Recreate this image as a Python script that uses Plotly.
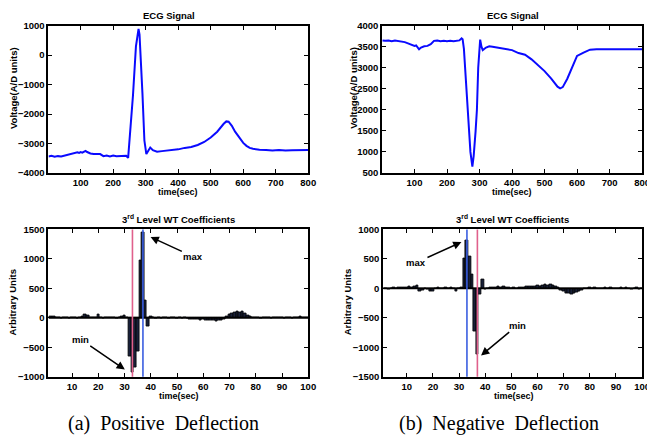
import plotly.graph_objects as go

# ---------------- data ----------------
# (a) positive deflection ECG
ecg_a_t = [1, 10, 20, 30, 40, 50, 60, 70, 80, 90, 95, 100, 105, 110, 115, 120, 130, 140, 150, 160,
           170, 180, 190, 200, 210, 220, 230, 240, 246, 252, 261, 270, 276, 278, 281, 286, 290, 296,
           302, 308, 314, 322, 335, 350, 360, 380, 400, 420, 440, 460, 480, 500, 520, 540, 548, 555,
           565, 575, 590, 600, 610, 620, 630, 640, 650, 670, 690, 710, 730, 750, 770, 790, 800]
ecg_a_v = [-3440, -3420, -3450, -3430, -3440, -3410, -3400, -3370, -3330, -3300, -3320, -3290, -3310,
           -3270, -3250, -3290, -3340, -3360, -3370, -3360, -3430, -3410, -3440, -3410, -3430, -3420,
           -3430, -3420, -3490, -2700, -1350, 300, 850, 890, 700, -300, -1300, -2900, -3360, -3250,
           -3140, -3230, -3280, -3260, -3250, -3230, -3200, -3150, -3120, -3050, -2950, -2800, -2600,
           -2330, -2250, -2260, -2400, -2600, -2850, -2980, -3080, -3150, -3180, -3200, -3210, -3220,
           -3240, -3220, -3240, -3230, -3220, -3220, -3220]

# (b) negative deflection ECG
ecg_b_t = [1, 10, 20, 30, 40, 50, 60, 70, 80, 90, 100, 105, 114, 120, 130, 140, 150, 160, 170, 180,
           190, 200, 210, 220, 230, 238, 245, 248, 252, 258, 264, 272, 278, 282, 288, 292, 296, 300,
           302, 306, 310, 320, 330, 340, 360, 380, 400, 420, 440, 460, 480, 500, 520, 540, 548, 556,
           570, 585, 600, 620, 640, 660, 680, 700, 720, 740, 760, 780, 800]
ecg_b_v = [3650, 3640, 3650, 3630, 3650, 3640, 3630, 3610, 3580, 3550, 3520, 3530, 3440, 3480, 3510,
           3520, 3560, 3640, 3650, 3630, 3640, 3630, 3640, 3630, 3640, 3650, 3700, 3680, 3450, 2700,
           1900, 1000, 650, 900, 1500, 2000, 3000, 3650, 3670, 3500, 3420, 3480, 3510, 3500, 3470,
           3440, 3420, 3350, 3310, 3200, 3060, 2920, 2750, 2550, 2510, 2540, 2740, 3000, 3280, 3360,
           3430, 3440, 3440, 3440, 3450, 3440, 3440, 3450, 3440]

# 3rd level wavelet coefficients (index 1..100)
wt_idx = list(range(1, 101))
wt_a = [10, 30, 20, 0, 10, -10, 10, 0, -10, 0, 10, -10, 0, 20, 50, 40, 0, 10, 10, 60,
        0, -10, 10, 0, 10, 0, -10, 10, 20, 40, 10, -650, -930, -850, -580, 970, 1450, 300, -150, 30,
        10, -10, 0, -10, 0, 10, -10, 0, 10, -10, 0, -10, 0, -10, -20, -30, -20, -30, -40, -30,
        -40, -50, -40, -50, -60, -50, -40, -20, 30, 60, 80, 90, 110, 90, 100, 70, 40, 20, 10, 0,
        10, -10, 0, 10, 0, -10, 10, 0, 10, 0, -10, 10, 0, -10, 0, 10, 20, 10, 0, 10]
wt_b = [0, -10, -20, 0, 10, 0, 10, 20, 10, 20, 30, 20, 30, 50, -50, -40, -10, -20, -60, -50,
        0, 10, 0, -10, 10, 0, 10, 0, -60, 0, 10, 510, 810, 550, 230, -740, -1120, -100, 150, -20,
        0, 10, 10, 20, 30, 20, 30, 20, 10, 0, 10, 0, 20, 10, 20, 30, 40, 30, 40, 50,
        40, 50, 60, 50, 60, 50, 40, 20, -30, -60, -80, -90, -110, -80, -70, -60, -30, -10, 0, 10,
        0, 10, 0, -10, 0, 10, 0, 10, 0, -10, 0, 10, 0, 10, 0, -20, 0, 10, -20, 0]

max_idx_a, min_idx_a = 37, 33
max_idx_b, min_idx_b = 33, 37

tick_ecg_t = [100, 200, 300, 400, 500, 600, 700, 800]
tick_ecg_a = [-4000, -3000, -2000, -1000, 0, 1000]
tick_ecg_b = [500, 1000, 1500, 2000, 2500, 3000, 3500, 4000]
tick_wt_t = [10, 20, 30, 40, 50, 60, 70, 80, 90, 100]
tick_wt_a = [-1000, -500, 0, 500, 1000, 1500]
tick_wt_b = [-1500, -1000, -500, 0, 500, 1000]

# ---------------- figure ----------------
# the page body has an 8px margin, so the figure is drawn 8px in from the window corner
OFF = 8
W, H = 655 - OFF, 447 - OFF
SANS = "Liberation Sans, Arial, Helvetica, sans-serif"
SERIF = "Liberation Serif, Times New Roman, serif"

def px(x):
    return (x - OFF) / W

def py(y):
    return 1 - (y - OFF) / H

fig = go.Figure()

line_blue = dict(color="#0a0aff", width=2)
fig.add_trace(go.Scatter(x=ecg_a_t, y=ecg_a_v, mode="lines", line=line_blue, xaxis="x", yaxis="y"))
fig.add_trace(go.Scatter(x=ecg_b_t, y=ecg_b_v, mode="lines", line=line_blue, xaxis="x2", yaxis="y2"))

bar_style = dict(color="#18203a", line=dict(color="black", width=0.8))
fig.add_trace(go.Bar(x=wt_idx, y=wt_a, width=1.0, marker=bar_style, xaxis="x3", yaxis="y3"))
fig.add_trace(go.Bar(x=wt_idx, y=wt_b, width=1.0, marker=bar_style, xaxis="x4", yaxis="y4"))

# zero baselines
fig.add_trace(go.Scatter(x=[wt_idx[0], wt_idx[-1]], y=[0, 0], mode="lines",
                         line=dict(color="black", width=1.8), xaxis="x3", yaxis="y3"))
fig.add_trace(go.Scatter(x=[wt_idx[0], wt_idx[-1]], y=[0, 0], mode="lines",
                         line=dict(color="black", width=1.8), xaxis="x4", yaxis="y4"))

RED = "#e0608c"
BLU = "#3a5ee0"
shapes = []
for xv, col, xr, yr in [(min_idx_a, RED, "x3", "y3"), (max_idx_a, BLU, "x3", "y3"),
                        (max_idx_b, BLU, "x4", "y4"), (min_idx_b, RED, "x4", "y4")]:
    shapes.append(dict(type="line", xref=xr, yref=yr + " domain", x0=xv, x1=xv, y0=0, y1=1,
                       line=dict(color=col, width=1.6), layer="above"))

def axis_common(**kw):
    d = dict(showgrid=False, zeroline=False, showline=True, linecolor="black", linewidth=2,
             mirror="allticks", ticks="inside", ticklen=4, tickwidth=1, tickcolor="black",
             tickfont=dict(family=SANS, size=9.5, color="black", weight="bold"),
             tickformat="d")
    d.update(kw)
    return d

xa1 = (49, 312)
xa2 = (387, 650)
xa3 = (49, 312)
xa4 = (388, 650)
yt = (20, 171)
yb = (229, 380)

layout = dict(
    width=W, height=H, margin=dict(l=0, r=0, t=0, b=0), autosize=False,
    paper_bgcolor="white", plot_bgcolor="white", showlegend=False, bargap=0,
    xaxis=axis_common(domain=[px(xa1[0]), px(xa1[1])], range=[1, 800], tickvals=tick_ecg_t, anchor="y"),
    yaxis=axis_common(domain=[py(yt[1]), py(yt[0])], range=[-4000, 1000], tickvals=tick_ecg_a, anchor="x"),
    xaxis2=axis_common(domain=[px(xa2[0]), px(xa2[1])], range=[1, 800], tickvals=tick_ecg_t, anchor="y2"),
    yaxis2=axis_common(domain=[py(yt[1]), py(yt[0])], range=[500, 4000], tickvals=tick_ecg_b, anchor="x2"),
    xaxis3=axis_common(domain=[px(xa3[0]), px(xa3[1])], range=[1, 100], tickvals=tick_wt_t, anchor="y3"),
    yaxis3=axis_common(domain=[py(yb[1]), py(yb[0])], range=[-1000, 1500], tickvals=tick_wt_a, anchor="x3"),
    xaxis4=axis_common(domain=[px(xa4[0]), px(xa4[1])], range=[1, 100], tickvals=tick_wt_t, anchor="y4"),
    yaxis4=axis_common(domain=[py(yb[1]), py(yb[0])], range=[-1500, 1000], tickvals=tick_wt_b, anchor="x4"),
    shapes=shapes,
)
fig.update_layout(**layout)

lab_font = dict(family=SANS, size=9.5, color="black", weight="bold")
xlab_font = dict(family=SANS, size=9, color="black", weight="bold")
texts = [
    ("ECG Signal", 171, 10, 0, lab_font),
    ("ECG Signal", 519, 10, 0, lab_font),
    ("time(sec)", 180, 191, 0, xlab_font),
    ("time(sec)", 518, 191, 0, xlab_font),
    ("time(sec)", 181, 400, 0, xlab_font),
    ("time(sec)", 520, 400, 0, xlab_font),
    ("Voltage(A/D units)", 13, 84, -90, lab_font),
    ("Voltage(A/D units)", 357, 84, -90, lab_font),
    ("Arbitrary Units", 13, 303, -90, lab_font),
    ("Arbitrary Units", 352, 303, -90, lab_font),
    ("3<sup>rd</sup> Level WT Coefficients", 180.5, 218, 0, lab_font),
    ("3<sup>rd</sup> Level WT Coefficients", 519, 218, 0, lab_font),
]
anns = []
for t, x, y, ang, fnt in texts:
    anns.append(dict(text=t, x=px(x), y=py(y), xref="paper", yref="paper", showarrow=False,
                     xanchor="center", yanchor="middle", textangle=ang, font=fnt))

cap_font = dict(family=SERIF, size=20, color="black")
anns.append(dict(text="(a)  Positive  Deflection", x=px(165), y=py(428), xref="paper", yref="paper",
                 showarrow=False, xanchor="center", yanchor="middle", font=cap_font))
anns.append(dict(text="(b)  Negative  Deflection", x=px(505), y=py(428), xref="paper", yref="paper",
                 showarrow=False, xanchor="center", yanchor="middle", font=cap_font))

arrow = dict(showarrow=True, arrowhead=2, arrowsize=1.1, arrowwidth=1.5, arrowcolor="black",
             font=dict(family=SANS, size=9.5, color="black", weight="bold"))
anns.append(dict(text="max", x=39.9, y=1372, ax=56.2, ay=1038, xref="x3", yref="y3",
                 axref="x3", ayref="y3", **arrow))
anns.append(dict(text="min", x=30.1, y=-878, ax=13.1, ay=-362, xref="x3", yref="y3",
                 axref="x3", ayref="y3", **arrow))
anns.append(dict(text="max", x=30.9, y=785, ax=13.5, ay=436, xref="x4", yref="y4",
                 axref="x4", ayref="y4", **arrow))
anns.append(dict(text="min", x=38.4, y=-1140, ax=52.4, ay=-625, xref="x4", yref="y4",
                 axref="x4", ayref="y4", **arrow))

fig.update_layout(annotations=anns)
fig.write_html("out.html")
